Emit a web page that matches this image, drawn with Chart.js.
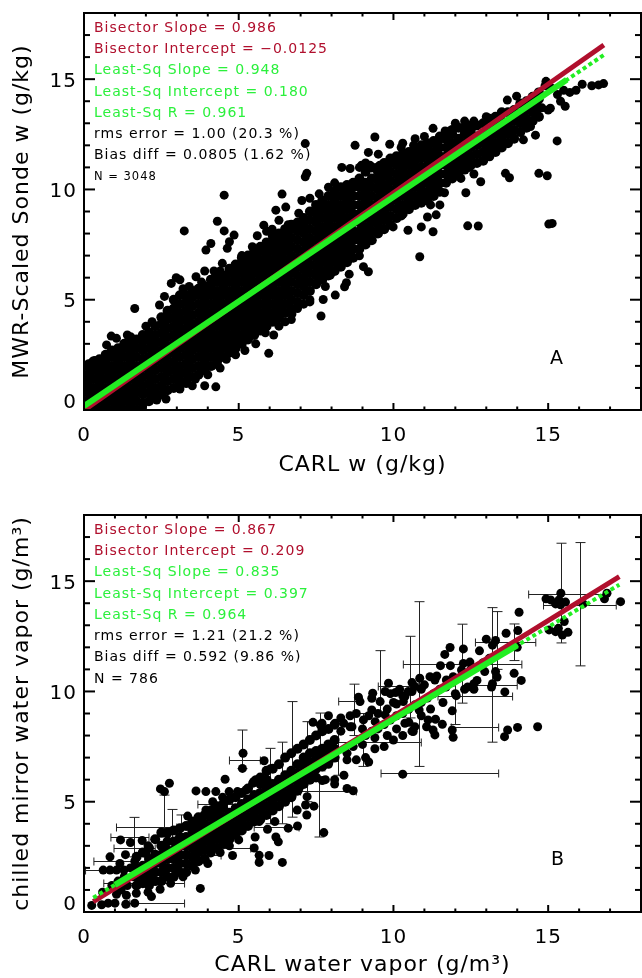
<!DOCTYPE html>
<html><head><meta charset="utf-8">
<style>html,body{margin:0;padding:0;background:#fff;width:642px;height:978px;overflow:hidden}
canvas{position:absolute;left:0;display:block}</style>
<script src="https://cdn.jsdelivr.net/npm/chart.js@4"></script></head>
<body><canvas id="a" width="646" height="490" style="top:0;width:646px;height:490px"></canvas>
<canvas id="b" width="646" height="478" style="top:500px;width:646px;height:478px"></canvas>
<script>
const majorTicks=[0,5,10,15];
const minorTicks=[1,2,3,4,6,7,8,9,11,12,13,14,16,17];

const statsA=[["Bisector Slope = 0.986",0],["Bisector Intercept = −0.0125",0],["Least-Sq Slope = 0.948",1],["Least-Sq Intercept = 0.180",1],["Least-Sq R = 0.961",1],["rms error = 1.00 (20.3 %)",2],["Bias diff = 0.0805 (1.62 %)",2],["N = 3048",3]];
const statsB=[["Bisector Slope = 0.867",0],["Bisector Intercept = 0.209",0],["Least-Sq Slope = 0.835",1],["Least-Sq Intercept = 0.397",1],["Least-Sq R = 0.964",1],["rms error = 1.21 (21.2 %)",2],["Bias diff = 0.592 (9.86 %)",2],["N = 786",2]];

// Panel A fit lines
const bisectorXA=[0,16.8], bisectorYA=[-0.0125,16.55];
const lsqDashXA=[0,16.8], lsqDashYA=[0.18,16.1];
const lsqSolidXA=[0,15.6], lsqSolidYA=[0.18,14.97];
// Panel B fit lines
const bisectorXB=[0.3,17.3], bisectorYB=[0.47,15.21];
const lsqDashXB=[0.3,17.3], lsqDashYB=[0.65,14.84];
const lsqSolidXB=[1,14], lsqSolidYB=[1.23,12.09];

// Panel A: dense core read as columns
const coreXA=[0.1,0.3,0.5,0.7,0.9,1.1,1.3,1.5,1.7,1.9,2.1,2.3,2.5,2.7,2.9,3.1,3.3,3.5,3.7,3.9,4.1,4.3,4.5,4.7,4.9,5.1,5.3,5.5,5.7,5.9,6.1,6.3,6.5,6.7,6.9,7.1,7.3,7.5,7.7,7.9,8.1,8.3,8.5,8.7,8.9,9.1,9.3,9.5,9.7,9.9,10.1,10.3,10.5,10.7,10.9,11.1,11.3,11.5,11.7,11.9,12.1,12.3,12.5,12.7,12.9,13.1,13.3,13.5,13.7,13.9,14.1,14.3,14.5,14.7];
const coreYA=[
[0,.4,.8,1.2,1.6,2],[.2,.6,1,1.4,1.8,2.2],[0,.4,.8,1.2,1.6,2,2.3],[.2,.6,1,1.4,1.8,2.2,2.5],[0,.4,.8,1.2,1.6,2,2.4,2.7],
[.2,.6,1,1.4,1.8,2.2,2.6,2.8],[0,.4,.8,1.2,1.6,2,2.4,2.8,3],[.2,.6,1,1.4,1.8,2.2,2.6,3,3.3],[0,.4,.8,1.2,1.6,2,2.4,2.8,3.2],[.3,.7,1.1,1.5,1.9,2.3,2.7,3.1,3.4],
[.4,.8,1.2,1.6,2,2.4,2.8,3.2,3.5],[.6,1,1.4,1.8,2.2,2.6,3,3.4,3.8],[.7,1.1,1.5,1.9,2.3,2.7,3.1,3.5,3.9,4.2],[.9,1.3,1.7,2.1,2.5,2.9,3.3,3.7,4.1,4.5],[1,1.4,1.8,2.2,2.6,3,3.4,3.8,4.2,4.6,5],
[1.2,1.6,2,2.4,2.8,3.2,3.6,4,4.4,4.8,5.2],[1.3,1.7,2.1,2.5,2.9,3.3,3.7,4.1,4.5,4.9,5.2],[1.5,1.9,2.3,2.7,3.1,3.5,3.9,4.3,4.7,5.1,5.4],[1.6,2,2.4,2.8,3.2,3.6,4,4.4,4.8,5.2,5.5],[1.8,2.2,2.6,3,3.4,3.8,4.2,4.6,5,5.4,5.6],
[2,2.4,2.8,3.2,3.6,4,4.4,4.8,5.2,5.6,5.9],[2.2,2.6,3,3.4,3.8,4.2,4.6,5,5.4,5.8,6],[2.4,2.8,3.2,3.6,4,4.4,4.8,5.2,5.6,6,6.1],[2.6,3,3.4,3.8,4.2,4.6,5,5.4,5.8,6.2,6.4],[2.8,3.2,3.6,4,4.4,4.8,5.2,5.6,6,6.4,6.6],
[3,3.4,3.8,4.2,4.6,5,5.4,5.8,6.2,6.6,6.9],[3.2,3.6,4,4.4,4.8,5.2,5.6,6,6.4,6.8,7],[3.4,3.8,4.2,4.6,5,5.4,5.8,6.2,6.6,7,7.2],[3.6,4,4.4,4.8,5.2,5.6,6,6.4,6.8,7.2,7.4],[3.8,4.2,4.6,5,5.4,5.8,6.2,6.6,7,7.4,7.6],
[4,4.4,4.8,5.2,5.6,6,6.4,6.8,7.2,7.6,7.9],[4.2,4.6,5,5.4,5.8,6.2,6.6,7,7.4,7.8,8],[4.4,4.8,5.2,5.6,6,6.4,6.8,7.2,7.6,8,8.2],[4.6,5,5.4,5.8,6.2,6.6,7,7.4,7.8,8.2,8.4],[4.9,5.3,5.7,6.1,6.5,6.9,7.3,7.7,8.1,8.5],
[5.2,5.6,6,6.4,6.8,7.2,7.6,8,8.4,8.7],[5.4,5.8,6.2,6.6,7,7.4,7.8,8.2,8.6,9],[5.7,6.1,6.5,6.9,7.3,7.7,8.1,8.5,8.9,9.3],[5.9,6.3,6.7,7.1,7.5,7.9,8.3,8.7,9.1,9.5],[6.1,6.5,6.9,7.3,7.7,8.1,8.5,8.9,9.3,9.7],
[6.3,6.7,7.1,7.5,7.9,8.3,8.7,9.1,9.5,9.9],[6.5,6.9,7.3,7.7,8.1,8.5,8.9,9.3,9.7,10.1],[6.7,7.1,7.5,7.9,8.3,8.7,9.1,9.5,9.9,10.2],[6.9,7.3,7.7,8.1,8.5,8.9,9.3,9.7,10.1,10.3],[7.3,7.7,8.1,8.5,8.9,9.3,9.7,10.1,10.5],
[7.5,7.9,8.3,8.7,9.1,9.5,9.9,10.3,10.8],[7.7,8.1,8.5,8.9,9.3,9.7,10.1,10.5,11],[8,8.4,8.8,9.2,9.6,10,10.4,10.8,11],[8.2,8.6,9,9.4,9.8,10.2,10.6,11,11.2],[8.4,8.8,9.2,9.6,10,10.4,10.8,11.2,11.4],
[8.7,9.1,9.5,9.9,10.3,10.7,11.1,11.5],[8.9,9.3,9.7,10.1,10.5,10.9,11.3,11.6],[9.1,9.5,9.9,10.3,10.7,11.1,11.5,11.7],[9.3,9.7,10.1,10.5,10.9,11.3,11.7,11.8],[9.4,9.8,10.2,10.6,11,11.4,11.8,12],
[9.5,9.9,10.3,10.7,11.1,11.5,11.9,12.1],[9.7,10.1,10.5,10.9,11.3,11.7,12.1,12.2],[9.9,10.3,10.7,11.1,11.5,11.9,12.3,12.4],[10.3,10.7,11.1,11.5,11.9,12.3,12.6],[10.5,10.9,11.3,11.7,12.1,12.5,12.7],
[10.7,11.1,11.5,11.9,12.3,12.8],[10.9,11.3,11.7,12.1,12.5,12.8],[11.1,11.5,11.9,12.3,12.7,12.9],[11.2,11.6,12,12.4,12.9],[11.3,11.7,12.1,12.5,13],
[11.5,11.9,12.3,12.7,13.2],[11.7,12.1,12.5,12.9,13.3],[11.9,12.3,12.7,13.1,13.5],[12.1,12.5,12.9,13.5],[12.3,12.7,13.1,13.6],
[12.6,13,13.4,13.9],[12.8,13.2,13.6,14],[13.1,13.5,13.9,14.2],[13.3,13.7,14.1,14.4]];
// Panel A: edge points and outliers
const edgeA=[[9.4,12.38],[8.76,12],[9.19,11.68],[9.51,11.6],[9.88,12.05],[8.33,11],[8.6,10.95],[11.28,12.77],[11.67,12.65],[13.68,14.05],[13.98,14.23],[14.93,14.9],[14.9,14.7],[15.1,14.6],[15.3,14.3],[15.5,14.5],[15.7,14.4],[15.9,14.5],[15.4,14],[15,13.6],[14.8,13.7],
[16.1,14.77],[16.41,14.7],[16.63,14.74],[16.79,14.8],[15.55,13.77],[15.07,13.68],[14.7,13.29],[15.29,12.2],[14.59,12.46],[13.62,10.73],[13.75,10.53],[14.7,10.73],[14.97,10.62],[12.82,10.35],[12.34,9.85],[11.49,9.89],[11.65,9.85],[12.4,8.35],[12.74,8.34],[15.02,8.43],[15.13,8.46],[11.28,8.08],[10.85,6.95],[9.19,6.27],[9.03,6.5],[8.57,6.16],[8.48,5.77],[8.42,5.59],[8.12,5.21],[7.73,5.01],[7.66,4.26],[8.9,6.99],[7.96,6.12],
[7.15,12.08],[7.2,10.73],[7.15,10.57],[4.53,9.74],[6.4,9.79],[4.31,8.56],[3.24,8.12],[4.53,8.12],[4.85,7.93],[5.81,8.38],[6.08,8.2],[6.2,9.06],[6.52,9.2],[6.3,8.6],[6.6,8.4],[6.94,8.92],[7.04,9.5],[7.3,9.6],[7.6,9.8],[1.64,4.6],[2.44,4.76],[2.6,5.15],[2.82,5.74],[2.98,6],[3.1,5.9],[3.62,6.04],[3.9,6.3],[3.94,7.25],[4.1,7.55],[4.63,7.33],[4.7,7.63],[5.44,7.4],[4.47,6.65],[5.1,7],[.73,2.95],[.88,3.35],[1.05,3.25],[.15,2.1],[.35,2.25],[5.97,2.57],[6.13,3.4],[5.86,3.5],[5.75,3.7],[6.72,4.35],[6.9,4.6],[7.1,4.8],[7.3,5],[7.5,5.7],[4.26,1.05],[3.9,1.1],[3.5,1.1],[4,1.6],[4.15,2],[3.1,.95],[2.65,.5],[2.35,.45],[1.9,.2],[4.6,2.3],[4.9,2.5],[5.2,2.7],[5.55,3],[10.3,12.1],[10.7,12.3],[11,12.4],[12,13],[12.3,13.1],[12.6,13.1],[13,13.3],[9.1,11.2],[8.9,11],[8.1,10.3],[7.9,10.1],[5.6,7.9],[5.9,8.1],[6.6,7.7],
[8.97,11.1],[9.24,11.1],[9.56,11.1],[9.94,11.2],[10.25,11.9],[10.65,12],[11.06,11.9],[11.17,10.3],[10.79,10.1],[10.47,9.6],[10.79,9.6],[11,9.6],[11.2,9.3],[11.5,9.3],[10.26,8.8],[9.99,8.3],[10.47,8.15],[10.9,8.3],[11.1,8.75],[11.38,8.85],[9.5,8],[8.76,8],[12.6,10.7],[12.45,11],[12.18,10.5],[13,11.8],[13.36,12],[14.2,12.25],[14.43,12.85],[3.2,5.5],[3.4,5.6],[3.8,5.8],[4.2,6.3],[4.4,6.3],[2.2,4],[2,3.8],[1.4,3.4],[4.4,1.9],[4.3,2.1],[3.6,1.4],[3.3,1.2],[6.3,3.8],[6.5,4],[6.7,4.1],[7.3,4.9],[7.8,5.6]];

// Panel B: dense core read as columns
const coreXB=[1.7,1.9,2.1,2.3,2.5,2.7,2.9,3.1,3.3,3.5,3.7,3.9,4.1,4.3,4.5,4.7,4.9,5.1,5.3,5.5,5.7,5.9,6.1,6.3,6.5,6.7,6.9,7.1,7.3,7.5,7.7,7.9,8.1];
const coreYB=[[1.2,1.6,2,2.5],[1.3,1.7,2.1,2.7],[1.2,1.6,2,2.4,2.9],[1.4,1.8,2.2,2.6,3.3],[1.4,1.8,2.2,2.6,3,3.6],[1.6,2,2.4,2.8,3.2,3.6],[1.6,2,2.4,2.8,3.2,3.7],[1.8,2.2,2.6,3,3.4,3.8],[1.8,2.2,2.6,3,3.4,3.9],[2.1,2.5,2.9,3.3,3.7,4.1],[2.3,2.7,3.1,3.5,3.9,4.3],[2.4,2.8,3.2,3.6,4,4.4],[2.7,3.1,3.5,3.9,4.3,4.6],[2.9,3.3,3.7,4.1,4.5,4.8],[3.1,3.5,3.9,4.3,4.7,4.9],[3.3,3.7,4.1,4.5,5.1],[3.5,3.9,4.3,4.7,5.2],[3.7,4.1,4.5,4.9,5.4],[3.9,4.3,4.7,5.1,5.6],[4.1,4.5,4.9,5.3,5.9],[4.2,4.6,5,5.4,5.8,6.1],[4.4,4.8,5.2,5.6,6,6.4],[4.6,5,5.4,5.8,6.5],[4.8,5.2,5.6,6,6.7],[5,5.4,5.8,6.2,7],[5.2,5.6,6,6.4,7.2],[5.5,5.9,6.3,6.7,7.4],[5.8,6.2,6.6,7,7.6],[6,6.4,6.8,7.2,7.8],[6.1,6.5,6.9,7.3,8],[6.6,7,7.4,8.2],[6.8,7.2,7.6,8.3],[7,7.4,7.8,8.5]];
// Panel B: individually read points
const edgeB=[[17.34,14.07],[16.9,14.45],[16.82,14.2],[16.13,13.97],[15.41,14.45],[14.93,14.2],[15.08,14.15],[15.24,13.97],[15.4,13.93],[15.56,14.05],[15.35,14.15],[15.52,13.17],[15.03,12.79],[15.24,12.71],[15.46,12.56],[15.64,12.68],[15.33,12.86],[14.06,13.59],[14.02,12.76],[13.64,12.64],[13,12.37],[13.3,12.31],[13.2,12.1],[13.9,12.1],[14,12],[11.83,11.99],[11.66,11.68],[12.26,11.93],[12.78,11.84],[11.52,11.17],[11.84,11.17],[12.26,11.27],[12.47,11.33],[12.2,10.97],[12.95,10.9],[13.3,10.9],[13.35,10.65],[13.2,10.35],[13.17,10.2],[13.9,10.82],[14.13,10.5],[13.6,9.98],[12.7,10.5],[12.6,10.35],[12.4,10.2],[12.03,9.81],[11.9,9.12],[10.83,9.16],[10.85,10.6],[11.18,10.67],[11.34,10.52],[10.69,10.22],[10.48,10],[10.37,9.77],[11.71,10.52],[11.93,10.67],[9.84,10.37],[9.73,10],[9.33,9.92],[9.3,9.69],[8.87,9.74],[8.92,9.54],[9.57,9.54],[10.07,9.95],[10.1,9.43],[10.32,9.54],[9.3,9.16],[11.36,8.74],[11.58,8.51],[11.12,8.71],[10.69,8.4],[10.64,8.18],[11.07,8.4],[11.28,8.25],[11.34,8.03],[11.9,8.25],[11.93,7.92],[14.01,8.37],[14.66,8.4],[13.69,8.25],[13.59,7.95],[7.69,8.56],[8.12,8.56],[8.39,8.56],[8.66,8.4],[9.03,8.71],[9.41,8.63],[9.73,8.94],[10.37,8.56],[7.64,8.48],
[2.76,5.84],[2.47,5.58],[2.6,5.46],[3.35,4.35],[3.62,5.49],[3.94,5.46],[4.26,5.46],[4.69,5.46],[4.96,5.46],[5.23,5.53],[5.14,7.2],[5.12,6.51],[4.56,6.02],[5.82,6.86],[6.03,6.5],[5.55,6],[5.45,5.84],[3.73,4.25],[3.94,4.63],[4.16,5],[4.48,5.2],[.84,2.5],[1.18,3.27],[1.5,3.15],[1.88,3.24],[1.34,2.6],[1.64,2.3],[1.16,2.2],[.62,1.9],[.84,1.9],[1.05,1.9],[1.29,1.9],[1.59,1.6],[1.9,1.75],[2.07,3],[2,2.65],[3.76,1.07],[2.46,1.03],[2.18,.7],[2.07,.9],[1.69,.85],[1.37,.76],[1.05,.8],[.25,.3],[.57,.33],[.78,.4],[1,.4],[1.35,.35],[1.64,.4],[4.8,2.56],[5,3.27],[5.5,2.9],[5.66,2.57],[5.98,2.56],[5.66,2.25],[6.41,2.25],[5.53,3.4],[6.28,3.18],[5.93,3.75],[6.17,4.1],[5.66,4.1],[7.75,3.6],[6.89,4.62],[7.16,4.85],[7.43,4.8],[7.7,5.96],[7.37,6.06],[6.73,5.31],[6.95,5.61],[7.21,5.23],
[8.5,7.2],[8.7,7.5],[8.9,7.8],[9.1,8],[9.3,8.2],[9.5,8.3],[9.7,8.5],[9.9,8.7],[10.1,8.9],[10.3,9],[10.5,9.2],[10.7,9.4],[10.9,9.5],[11.1,9.7],[11.3,9.9],[11.5,10.1],[11.7,10.2],[11.9,10.4],[12.1,10.6],[12.3,10.8],[12.5,11],[12.7,11.1],[12.9,11.3],[13.1,11.5],[8.6,8.9],[8.8,9],[9,8.3],[9.2,8.9],[9.5,9],[9.8,9.2],[10,9.5],[10.3,9.8],[10.6,10],[10.9,10.1],[8.5,6.9],[8.8,6.9],[9.1,7],[9.4,7.4],[9.7,7.5],[10,7.8],[10.3,8],[10.6,8.2],[8.1,6],[8.4,6.2],[7.8,6],[8.7,5.5],[10.3,6.25],[9.2,6.8],[8.3,8.8],[7.9,8.9],[7.4,8.6],
[8.3,8.2],[8.6,8.4],[9,7.6],[9.4,7.9],[9.8,8],[10.1,8.3],[10.5,8.6],[10.9,8.9],[11.2,9.2],[11.6,9.5],[12,9.9],[12.3,10.1],[12.6,10.1],[9.9,9.9],[10.2,10.1],[10.6,10.4],[11,10.3],[11.4,10.7],[7.9,6.7],[8.1,5.8],[8.5,5.6],[6.9,3.9],[6.6,3.8],[7.2,4.4],[6.2,3.4],[4.7,3],[4.4,2.7],[4,2.2],[3.6,1.9],[3.2,1.6],[2.8,1.3],[1.4,1.2],[1.2,1],[.9,1.2],[1.5,2],[1.3,1.6],[1.1,1.4],[.6,.9]];

// Panel B error bars: [x, low, high]
const verticalBarsB=[[15.43,12.2,16.72],[16.03,11.16,16.75],[10.83,6.6,14.07],[10.53,8.8,12.5],[9.58,9,11.85],[8.71,8,10.33],[13.18,7.7,13.8],[13.34,11,13.62],[12.23,9.47,13.05],[13.9,11.4,13.06],[12,8.5,10.5],[5.12,6.5,8.25],[6.73,4.3,9.54],[7.2,5,8.63],[7.64,6.4,9.02],[1.6,2.5,4.29],[2.84,3.2,4.65],[2.58,3.4,5.3],[3.14,3.2,4.4],[6,4,7.42],[6.4,4,7.7],[7.58,3.4,6],[8.2,6.2,8.3],[9,6.6,9]];
// Panel B error bars: [y, low, high]
const horizontalBarsB=[[14.44,14.37,16.9],[13.93,14.85,17.2],[12.25,12.65,14.6],[11.25,10.32,14.15],[10.3,12.63,14],[9.8,11.44,13.85],[9.56,8.23,8.92],[8.37,11.87,13.4],[10.26,9.51,10.8],[3.84,1.05,3],[3.84,5.5,6.95],[3.42,.87,2.1],[2.9,.97,2.3],[2.9,3.73,5.39],[2.29,.32,1.59],[1.9,.05,1.37],[1.33,.64,3.25],[.39,1.48,3.25],[2.6,3.3,4.43],[4.9,3.68,4.8],[6.3,9.6,13.4],[7.7,8,10.9],[6.9,4.7,5.7],[5.5,7,8.8]];

const yLabelShift={15:['','15',6],10:['','10',4],5:['','5',4],0:['0','',14]};
const FONT='"DejaVu Sans"';
const colors=['#b00f2d','#2bf03c','#000','#000'];

function flatten(xs,yy){const out=[];xs.forEach((x,i)=>yy[i].forEach(y=>out.push({x,y})));return out;}
function pairs(list){return list.map(p=>({x:p[0],y:p[1]}));}
function line(xs,ys){return xs.map((x,i)=>({x,y:ys[i]}));}

function frame(chart){
  const {ctx,chartArea:a,scales:{x,y}}=chart;
  ctx.save();ctx.strokeStyle='#000';ctx.lineWidth=2;ctx.lineCap='butt';
  ctx.strokeRect(a.left,a.top,a.right-a.left,a.bottom-a.top);
  const seg=(x1,y1,x2,y2)=>{ctx.beginPath();ctx.moveTo(x1,y1);ctx.lineTo(x2,y2);ctx.stroke();};
  const tick=(v,xl,yl)=>{
    const px=x.getPixelForValue(v),py=y.getPixelForValue(v);
    seg(px,a.bottom,px,a.bottom-yl);seg(px,a.top,px,a.top+yl);
    seg(a.left,py,a.left+xl,py);seg(a.right,py,a.right-xl,py);
  };
  majorTicks.forEach(v=>{if(v>0)tick(v,11,7);});
  minorTicks.forEach(v=>tick(v,6,3.5));
  ctx.restore();
}
function errorBars(chart,vb,hb){
  const {ctx,scales:{x,y}}=chart;
  ctx.save();ctx.strokeStyle='#222';ctx.lineWidth=1;
  const seg=(x1,y1,x2,y2)=>{ctx.beginPath();ctx.moveTo(x1,y1);ctx.lineTo(x2,y2);ctx.stroke();};
  vb.forEach(b=>{const px=Math.round(x.getPixelForValue(b[0]))+.5,lo=y.getPixelForValue(b[1]),hi=y.getPixelForValue(b[2]);
    seg(px,lo,px,hi);seg(px-5,lo,px+5,lo);seg(px-5,hi,px+5,hi);});
  hb.forEach(b=>{const py=Math.round(y.getPixelForValue(b[0]))+.5,lo=x.getPixelForValue(b[1]),hi=x.getPixelForValue(b[2]);
    seg(lo,py,hi,py);seg(lo,py-4,lo,py+4);seg(hi,py-4,hi,py+4);});
  ctx.restore();
}
function annotate(chart,stats,letter,firstY){
  const {ctx}=chart;
  ctx.save();ctx.textAlign='left';ctx.textBaseline='middle';
  stats.forEach((s,i)=>{
    ctx.fillStyle=colors[s[1]];
    ctx.font=(s[1]===3?'11.5px ':'14px ')+FONT;
    ctx.fillText(s[0],94,firstY+i*21.3);
  });
  ctx.fillStyle='#000';ctx.font='19px '+FONT;ctx.textAlign='center';
  ctx.fillText(letter[0],letter[1],letter[2]);
  ctx.restore();
}
function makeChart(id,o){
  return new Chart(document.getElementById(id),{
    type:'scatter',
    data:{datasets:[
      {label:'Least-Sq fit',data:line(o.solid[0],o.solid[1]),showLine:true,pointRadius:0,borderColor:'#22ee22',borderWidth:6,order:0},
      {label:'Least-Sq fit extended',data:line(o.dash[0],o.dash[1]),showLine:true,pointRadius:0,borderColor:'#22ee22',borderWidth:4,borderDash:[4,3],order:1},
      {label:'Bisector fit',data:line(o.bis[0],o.bis[1]),showLine:true,pointRadius:0,borderColor:'#b00f2d',borderWidth:5,order:2},
      {label:'Samples',data:o.edge,pointRadius:4.5,pointBackgroundColor:'#000',pointBorderWidth:0,showLine:false,order:3},
      {label:'Samples (dense core)',data:o.core,pointRadius:5,pointBackgroundColor:'#000',pointBorderWidth:0,showLine:false,order:4}
    ]},
    options:{
      responsive:false,animation:false,
      layout:{padding:{top:o.top,right:2,left:0,bottom:0}},
      plugins:{legend:{display:false},tooltip:{enabled:false}},
      scales:{
        x:{type:'linear',min:0,max:18,grid:{display:false,drawTicks:false},border:{display:false},
          afterFit:s=>{s.height=o.xh;},
          ticks:{stepSize:5,includeBounds:false,maxRotation:0,padding:14,color:'#000',font:{family:FONT,size:20,lineHeight:1.2}},
          title:{display:true,text:o.xTitle,color:'#000',font:{family:FONT,size:o.titleSize,lineHeight:1.2},padding:{top:0,bottom:o.xTitlePad}}},
        y:{type:'linear',min:0,max:18,grid:{display:false,drawTicks:false},border:{display:false},
          afterFit:s=>{s.width=84;},
          ticks:{stepSize:5,includeBounds:false,padding:7,color:'#000',
            callback:v=>yLabelShift[v]?yLabelShift[v].slice(0,2):v,
            font:c=>({family:FONT,size:20,lineHeight:(yLabelShift[c.tick&&c.tick.value]?yLabelShift[c.tick.value][2]:24)+'px'})},
          title:{display:true,text:o.yTitle,color:'#000',font:{family:FONT,size:o.titleSize,lineHeight:1.2},padding:{top:9,bottom:0}}}
      }
    },
    plugins:[{id:'panel',
      beforeDraw:c=>{c.ctx.letterSpacing='1px';},
      beforeDatasetsDraw:c=>{if(o.vb)errorBars(c,o.vb,o.hb);},
      afterDatasetsDraw:c=>{frame(c);annotate(c,o.stats,o.letter,o.firstY);}}]
  });
}
makeChart('a',{top:13,xh:80,xTitlePad:12,titleSize:22,
  xTitle:'CARL w (g/kg)',yTitle:'MWR-Scaled Sonde w (g/kg)',
  core:flatten(coreXA,coreYA),edge:pairs(edgeA),
  solid:[lsqSolidXA,lsqSolidYA],dash:[lsqDashXA,lsqDashYA],bis:[bisectorXA,bisectorYA],
  stats:statsA,letter:['A',557,359],firstY:28});
makeChart('b',{top:15,xh:66,xTitlePad:0,titleSize:22,
  xTitle:'CARL water vapor (g/m³)',yTitle:'chilled mirror water vapor (g/m³)',
  core:flatten(coreXB,coreYB),edge:pairs(edgeB),
  solid:[lsqSolidXB,lsqSolidYB],dash:[lsqDashXB,lsqDashYB],bis:[bisectorXB,bisectorYB],
  vb:verticalBarsB,hb:horizontalBarsB,
  stats:statsB,letter:['B',558,360],firstY:30});
</script></body></html>
